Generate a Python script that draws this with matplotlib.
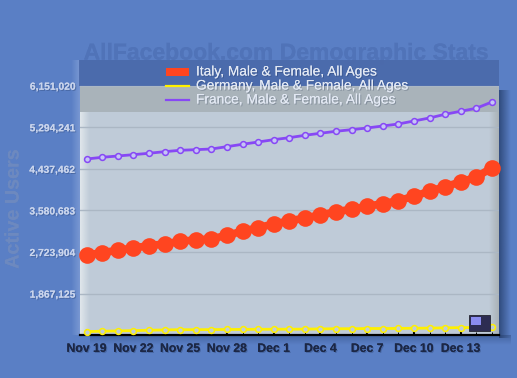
import numpy as np
import matplotlib
matplotlib.use("Agg")
import matplotlib.pyplot as plt
import matplotlib.patheffects as pe
from matplotlib.patches import Rectangle

# values
days = ["Nov 19", "Nov 20", "Nov 21", "Nov 22", "Nov 23", "Nov 24", "Nov 25", "Nov 26", "Nov 27",
        "Nov 28", "Nov 29", "Nov 30", "Dec 1", "Dec 2", "Dec 3", "Dec 4", "Dec 5", "Dec 6",
        "Dec 7", "Dec 8", "Dec 9", "Dec 10", "Dec 11", "Dec 12", "Dec 13", "Dec 14", "Dec 15"]
italy = [2664000, 2711000, 2761000, 2808000, 2856000, 2891000, 2946000, 2973000, 2994000,
         3070000, 3152000, 3226000, 3303000, 3364000, 3426000, 3488000, 3556000, 3605000,
         3667000, 3721000, 3782000, 3873000, 3976000, 4071000, 4168000, 4264000, 4462000]
germany = [1084000, 1093000, 1099000, 1105000, 1113000, 1119000, 1124000, 1124000, 1126000,
           1128000, 1130000, 1132000, 1134000, 1134000, 1136000, 1140000, 1144000, 1144000,
           1148000, 1148000, 1150000, 1154000, 1156000, 1162000, 1166000, 1170000, 1178000]
france = [4641000, 4676000, 4703000, 4730000, 4759000, 4792000, 4820000, 4833000, 4847000,
          4895000, 4944000, 4991000, 5039000, 5080000, 5129000, 5171000, 5212000, 5245000,
          5280000, 5321000, 5362000, 5424000, 5486000, 5562000, 5624000, 5686000, 5815000]
y_ticks = [1867125, 2723904, 3580683, 4437462, 5294241, 6151020]
legend_names = ["Italy, Male & Female, All Ages", "Germany, Male & Female, All Ages",
                "France, Male & Female, All Ages"]

W, H = 517, 378
BG = "#5a7fc5"
PLOT = "#bfcbd8"
FONT = "Liberation Sans"


def axes_px(fig, left, top, right, bottom, **kw):
    return fig.add_axes([left / W, 1 - bottom / H, (right - left) / W, (bottom - top) / H], **kw)


def gradient(ax, extent, color, a0, a1, horizontal=True, zorder=1):
    # soft edge made of an alpha ramp
    ramp = np.linspace(a0, a1, 32)
    img = np.zeros((1, 32, 4)) if horizontal else np.zeros((32, 1, 4))
    img[..., :3] = matplotlib.colors.to_rgb(color)
    img[..., 3] = ramp if horizontal else ramp.reshape(32, 1)
    ax.imshow(img, extent=extent, aspect="auto", zorder=zorder, interpolation="bilinear")


fig = plt.figure(figsize=(W / 100, H / 100), dpi=100, facecolor=BG)

# background layer in pixel coordinates
deco = axes_px(fig, 0, 0, W, H)
deco.set_axis_off()
gradient(deco, (71, 80, 335, 60), "#a8bde6", 0, 0.4, zorder=1)
gradient(deco, (499, 511, 338, 90), "#1f3660", 0.7, 0, zorder=1)
gradient(deco, (90, 511, 345, 335), "#1f3660", 0.35, 0, horizontal=False, zorder=1)
soft = [pe.withStroke(linewidth=1.2, foreground="#5a7fc5", alpha=0.5), pe.Normal()]
deco.text(285.5, 53, "AllFacebook.com Demographic Stats", family=FONT, weight="bold", fontsize=16.5,
          color="#5073b8", ha="center", va="center", zorder=2, path_effects=soft)
deco.add_patch(Rectangle((80, 85), 419, 250, fc=PLOT, ec="none", zorder=3))
gradient(deco, (80, 90, 335, 85), "#e4eaee", 0.9, 0, zorder=4)
gradient(deco, (489, 499, 335, 85), "#aab2b6", 0, 1, zorder=4)
deco.add_patch(Rectangle((80, 85.5), 419, 26.5, fc="#a9b3ba", ec="none", zorder=5))
deco.set_xlim(0, W)
deco.set_ylim(H, 0)
deco.text(13, 209, "Active Users", family=FONT, weight="bold", fontsize=14.2, rotation=90,
          color="#6d89bf", ha="center", va="center", path_effects=soft)

# data layer
ax = axes_px(fig, 80, 85.7, 499, 335.2)
ax.patch.set_alpha(0)
x = np.arange(len(days))
ax.plot(x, italy, color="#ff4520", lw=5.5, marker="o", ms=12, mew=0, clip_on=False, zorder=3)
ax.plot(x, germany, color="#fff000", lw=2, marker="o", ms=4.2, mew=1.1, mfc=PLOT, clip_on=False, zorder=3)
ax.plot(x, france, color="#8748f5", lw=2, marker="o", ms=4.2, mew=1.1, mfc="#c5c5f5", clip_on=False, zorder=3)
ax.set_xlim(-0.43, 26.46)
ax.set_ylim(1010346, 6151020)

ax.set_yticks(y_ticks)
ax.set_yticklabels([f"{v:,}" for v in y_ticks], family=FONT, weight="bold", fontsize=7.4, color="#c9d4ec")
ax.grid(axis="y", color="#abb7c4", lw=1)
ax.set_axisbelow(True)
ax.tick_params(axis="y", length=0, pad=3.5)
ax.set_xticks(x[::3])
ax.set_xticklabels(days[::3], family=FONT, weight="bold", fontsize=8.8, color="#1c2745")
ax.set_xticks(x, minor=True)
ax.tick_params(axis="x", which="major", direction="in", length=4, width=1.5, color="black", pad=5.5)
ax.tick_params(axis="x", which="minor", direction="in", length=2, width=0.7, color="black")
for side in ["top", "left", "right"]:
    ax.spines[side].set_visible(False)
ax.spines["bottom"].set_linewidth(1.6)
ax.spines["bottom"].set_color("black")
shadow = [pe.withSimplePatchShadow(offset=(0.8, -0.8), alpha=0.25, shadow_rgbFace="#102040"), pe.Normal()]
for t in ax.get_xticklabels() + ax.get_yticklabels():
    t.set_path_effects(shadow)

# legend band and logo on top
top = axes_px(fig, 0, 0, W, H)
top.set_axis_off()
top.patch.set_alpha(0)
top.set_xlim(0, W)
top.set_ylim(H, 0)
top.add_patch(Rectangle((79, 60), 420, 25.5, fc="#4b6aab", ec="none", alpha=0.95))
top.add_patch(Rectangle((166, 68), 23, 8, fc="#ff4520", ec="none"))
top.plot([166, 189], [85.5, 85.5], color="#fff000", lw=1.6)
top.plot([166, 189], [99.5, 99.5], color="#8748f5", lw=1.6)
for name, ty in zip(legend_names, [71.5, 85.5, 99.5]):
    top.text(196, ty, name, family=FONT, fontsize=9.9, color="#e3e9f4", va="center", path_effects=shadow)
top.add_patch(Rectangle((469, 315), 21, 16, fc="#2d2d52", ec="#242430", lw=0.6))
top.add_patch(Rectangle((471, 317), 10, 8, fc="#8a8cf0", ec="none"))

fig.savefig("out.png", dpi=100, facecolor=BG)
